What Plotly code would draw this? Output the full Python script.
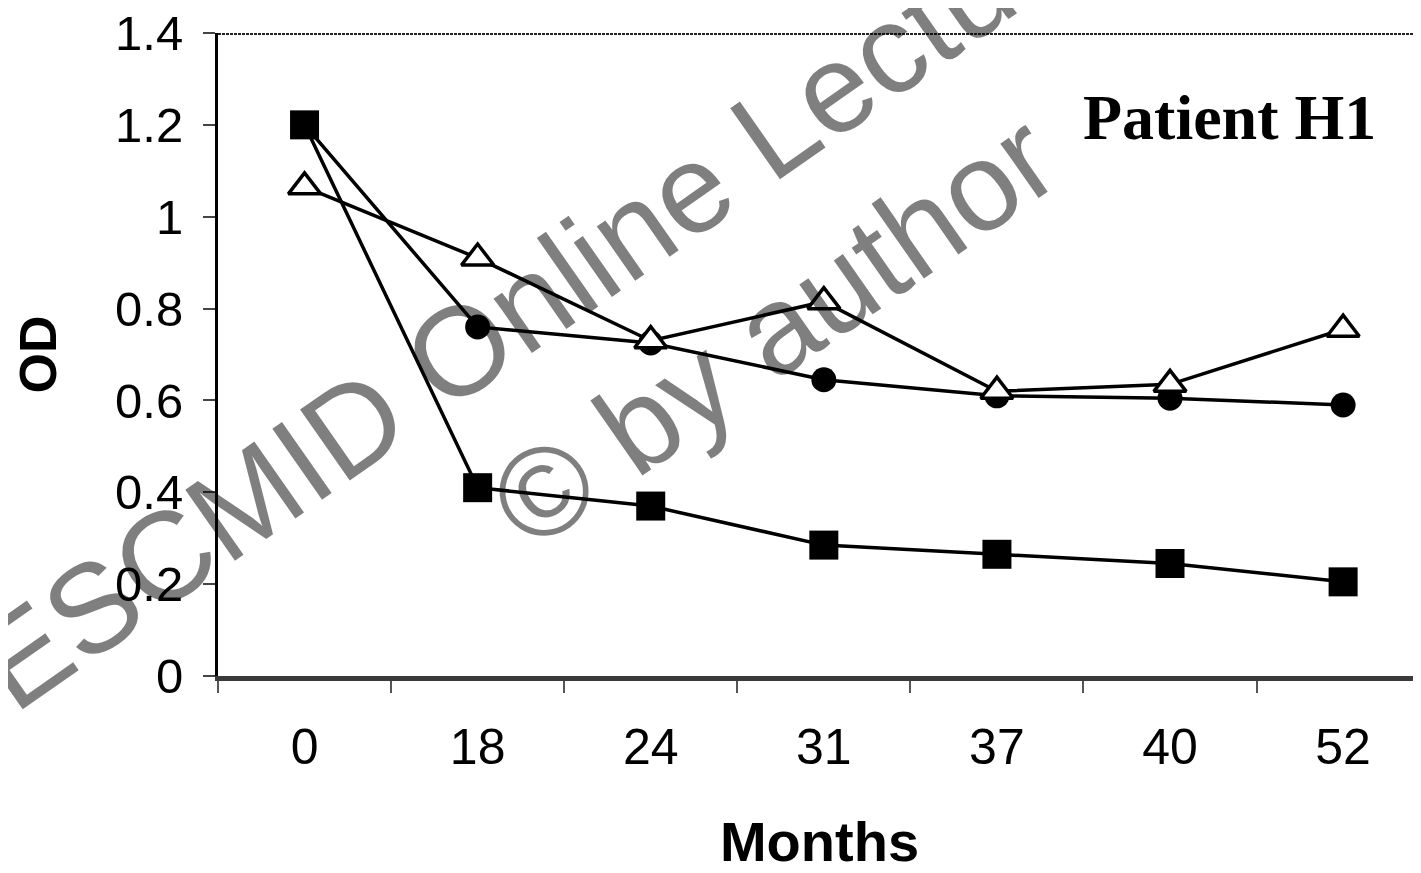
import plotly.graph_objects as go

months = ["0", "18", "24", "31", "37", "40", "52"]
series_square = [1.20, 0.41, 0.37, 0.285, 0.265, 0.245, 0.205]
series_circle = [1.20, 0.76, 0.725, 0.645, 0.61, 0.605, 0.59]
series_triangle = [1.065, 0.91, 0.73, 0.815, 0.62, 0.635, 0.755]
y_ticks = [0, 0.2, 0.4, 0.6, 0.8, 1.0, 1.2, 1.4]

fig = go.Figure()
fig.add_trace(go.Scatter(
    x=months, y=series_circle, mode="lines+markers", name="circle",
    line=dict(color="black", width=3.5),
    marker=dict(symbol="circle", size=25, color="black"),
))
fig.add_trace(go.Scatter(
    x=months, y=series_square, mode="lines+markers", name="square",
    line=dict(color="black", width=3.5),
    marker=dict(symbol="square", size=29, color="black"),
))
fig.add_trace(go.Scatter(
    x=months, y=series_triangle, mode="lines+markers", name="triangle",
    line=dict(color="black", width=3.5),
    marker=dict(symbol="triangle-up", size=28, color="white",
                line=dict(color="black", width=3.5)),
))

# page body has an 8px margin; size the figure so it fits the window
fig.update_layout(
    width=1413, height=865,
    margin=dict(l=210, r=0, t=25, b=197, autoexpand=False),
    paper_bgcolor="white", plot_bgcolor="white",
    showlegend=False,
    font=dict(family="Liberation Sans, Arial, sans-serif", color="black"),
)
fig.update_xaxes(
    type="category", range=[-0.5, 6.45], automargin=False,
    showgrid=False, zeroline=False,
    showline=True, linecolor="#3a3a3a", linewidth=5,
    ticks="outside", tickson="boundaries", ticklen=12, tickwidth=2, tickcolor="#555",
    tickfont=dict(size=50, family="Liberation Sans Narrow, Arial Narrow, Liberation Sans, sans-serif"),
    ticklabelstandoff=23,
    title=dict(text="<b>Months</b>", font=dict(size=56), standoff=71),
)
fig.update_yaxes(
    range=[0, 1.4], tickvals=y_ticks, automargin=False,
    showgrid=False, zeroline=False,
    showline=True, linecolor="black", linewidth=3,
    ticks="outside", ticklen=12, tickwidth=2, tickcolor="#444",
    tickfont=dict(size=49),
    ticklabelstandoff=10, ticklabeloverflow="allow",
    title=dict(text="<b>OD</b>", font=dict(size=52), standoff=42),
)
# dotted top border
fig.add_shape(type="line", xref="paper", yref="y", x0=0, x1=1, y0=1.4, y1=1.4,
              line=dict(color="#222", width=4, dash="3px,1px"))

fig.add_annotation(
    text="<b>Patient H1</b>", xref="paper", yref="y", x=0.841, y=1.215,
    xanchor="center", yanchor="middle",
    showarrow=False, font=dict(family="Liberation Serif, Times New Roman, serif", size=64, color="black"),
)
wm_font = dict(family="Liberation Sans, Arial, sans-serif", size=126, color="rgba(0,0,0,0.5)")
fig.add_annotation(
    text="ESCMID Online Lecture Library", xref="paper", yref="paper",
    x=0.411, y=0.781, xanchor="center", yanchor="middle",
    textangle=-35, showarrow=False, font=wm_font,
)
fig.add_annotation(
    text="© by author", xref="paper", yref="paper",
    x=0.462, y=0.537, xanchor="center", yanchor="middle",
    textangle=-35, showarrow=False, font=wm_font,
)

fig.write_html("out.html")
